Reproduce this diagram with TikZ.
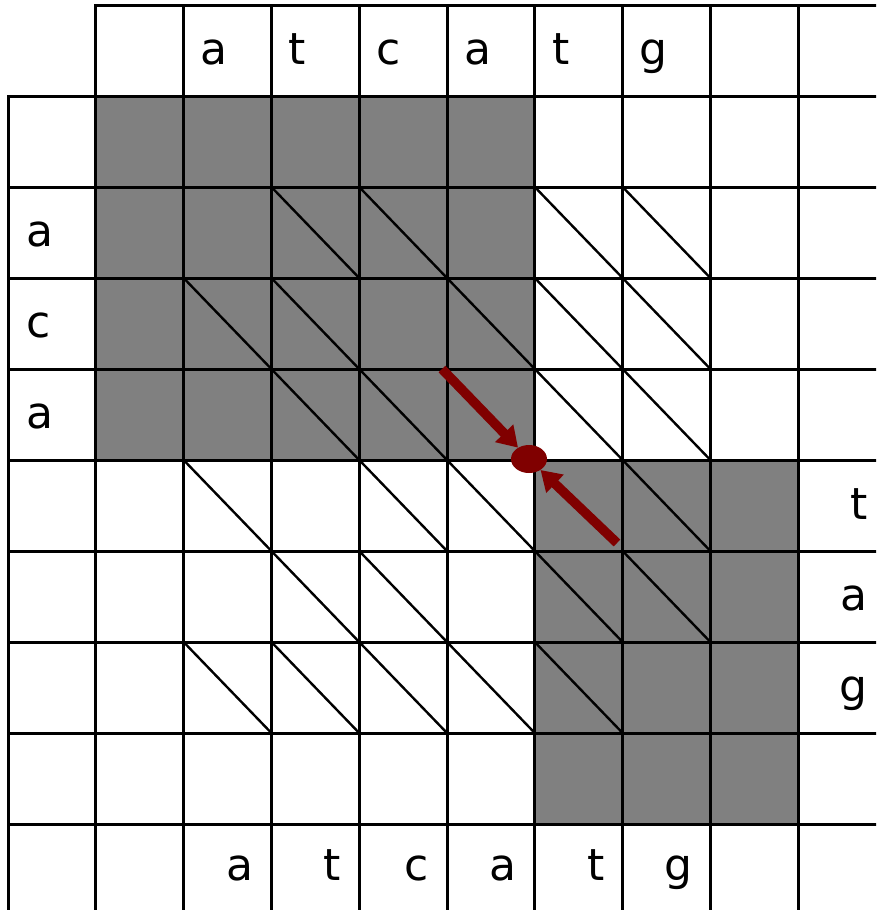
\documentclass[tikz,border=0pt]{standalone}
\usepackage{fontspec}
\setmainfont{DejaVu Sans}
\usetikzlibrary{arrows.meta,shapes.geometric}
\definecolor{cellgray}{RGB}{128,128,128}
\definecolor{pathred}{RGB}{128,0,0}
\begin{document}
\begin{tikzpicture}[x=1pt,y=-1pt,
  gridline/.style={draw=black,line width=3pt,line cap=rect},
  diagline/.style={draw=black,line width=2.4pt},
  shade/.style={fill=cellgray},
  letter/.style={inner sep=0pt,font=\fontsize{44}{52}\selectfont},
  patharrow/.style={draw=pathred,line width=9.5pt,-{Triangle[length=20pt,width=24pt]}},
  pathdot/.style={ellipse,fill=pathred,inner sep=0pt,minimum width=36pt,minimum height=28pt}]
\clip (0,0) rectangle (876,910);
\fill[white] (0,0) rectangle (876,910);
% shaded regions
\fill[shade] ({8+87.8*1},{5+91*1}) rectangle ({8+87.8*6},{5+91*5});
\fill[shade] ({8+87.8*6},{5+91*5}) rectangle ({8+87.8*9},{5+91*9});
% grid
\draw[gridline] ({8+87.8*1},5) -- (900,5);
\foreach \i in {1,...,9} \draw[gridline] (8,{5+91*\i}) -- (900,{5+91*\i});
\draw[gridline] (8,{5+91*1}) -- (8,930);
\foreach \j in {1,...,9} \draw[gridline] ({8+87.8*\j},5) -- ({8+87.8*\j},930);
% diagonals
\foreach \i/\j in {2/3,2/4,2/6,2/7, 3/2,3/3,3/5,3/6,3/7, 4/3,4/4,4/6,4/7,
                   5/2,5/4,5/5,5/7, 6/3,6/4,6/6,6/7, 7/2,7/3,7/4,7/5,7/6}
  \draw[diagline] ({8+87.8*\j},{5+91*\i}) -- ({8+87.8*(\j+1)},{5+91*(\i+1)});
% top labels
\foreach \j/\c in {2/a,3/t,4/c,5/a,6/t,7/g}
  \node[letter,anchor=base west] (top\j) at ({8+87.8*\j+17},64) {\c};
% bottom labels
\foreach \j/\c in {2/a,3/t,4/c,5/a,6/t,7/g}
  \node[letter,anchor=base east] (bot\j) at ({8+87.8*(\j+1)-18},880) {\c};
% left labels
\foreach \i/\c in {2/a,3/c,4/a}
  \node[letter,anchor=base west] (left\i) at (26,{5+91*\i+59}) {\c};
% right labels
\foreach \i/\c in {5/t,6/a,7/g}
  \node[letter,anchor=base east] (right\i) at (868,{5+91*\i+59}) {\c};
% path
\node[pathdot] (dot) at (529,459) {};
\coordinate (s1) at (442,369);
\coordinate (s2) at (617,543);
\draw[patharrow] (s1) -- (dot);
\draw[patharrow] (s2) -- (dot);
\end{tikzpicture}
\end{document}
